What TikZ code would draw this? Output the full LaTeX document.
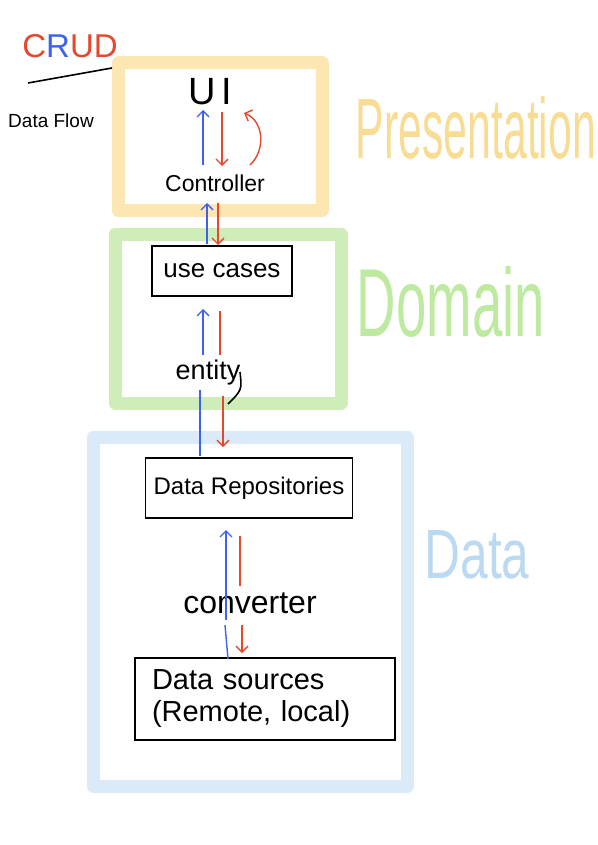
\documentclass[tikz,border=0pt]{standalone}
\usepackage{fontspec}
\usepackage{graphicx}
\setmainfont{Liberation Sans}
\usetikzlibrary{arrows.meta}
\definecolor{penred}{HTML}{E5482D}
\definecolor{penblue}{HTML}{3E62EE}
\definecolor{layyellow}{HTML}{FCE6B2}
\definecolor{laygreen}{HTML}{CFEDB8}
\definecolor{layblue}{HTML}{DAEAF8}
\definecolor{txtyellow}{HTML}{F8DC94}
\definecolor{txtgreen}{HTML}{BDE9A0}
\definecolor{txtblue}{HTML}{BCD9F2}
\tikzset{
  layer/.style={line width=13pt, line join=round, line cap=round},
  compbox/.style={draw=black, line width=1.6pt, inner sep=0pt},
  uparrow/.style={draw=penblue, line width=1.4pt, -{Straight Barb[length=6pt,width=12pt]}},
  downarrow/.style={draw=penred, line width=1.4pt, -{Straight Barb[length=6pt,width=12pt]}},
  upline/.style={draw=penblue, line width=1.4pt},
  downline/.style={draw=penred, line width=1.4pt},
  lbl/.style={inner sep=0pt, text=black},
}
\begin{document}
\begin{tikzpicture}[x=1pt,y=-1pt]
\useasboundingbox (0,0) rectangle (597,845);
% layer frames
\draw[layer, layyellow] (118,63) rectangle (322,210);
\draw[layer, laygreen] (115,234) rectangle (341,403);
\draw[layer, layblue] (93,437) rectangle (407,786);
% layer labels
\node[lbl, text=txtyellow] (presl) at (476,128) {\resizebox{240pt}{62pt}{Presentation}};
\node[lbl, text=txtgreen] (doml) at (451,302) {\resizebox{188pt}{70pt}{Domain}};
\node[lbl, text=txtblue] (datal) at (477,555) {\resizebox{105pt}{48pt}{Data}};
% legend
\node[lbl, font=\fontsize{33}{33}\selectfont] (crud) at (70,46) {\textcolor{penred}{C}\textcolor{penblue}{R}\textcolor{penred}{UD}};
\coordinate (ulA) at (28,83);
\coordinate (ulB) at (112,68);
\draw[line width=1.6pt] (ulA) -- (ulB);
\node[lbl, font=\fontsize{19}{19}\selectfont] (flow) at (51,121) {Data Flow};
% nodes
\node[lbl, font=\fontsize{38}{38}\selectfont] (ui) at (210,92) {U\hspace{6pt}I};
\node[lbl, font=\fontsize{23}{23}\selectfont] (ctrl) at (215,183) {Controller};
\node[compbox, minimum width=140pt, minimum height=50pt, font=\fontsize{26}{26}\selectfont] (uc) at (222,271) {use cases};
\node[lbl, font=\fontsize{27}{27}\selectfont] (ent) at (208,373) {entity};
\node[compbox, minimum width=207pt, minimum height=60pt, font=\fontsize{24}{24}\selectfont] (repo) at (249,488) {Data Repositories};
\node[lbl, font=\fontsize{32}{32}\selectfont] (conv) at (250,603) {converter};
\node[compbox, minimum width=260pt, minimum height=82pt, text width=226pt, align=left, font=\fontsize{29}{32}\selectfont] (src) at (265,699) {Data sources\\(Remote, local)};
% connector end points
\coordinate (c1a) at (203,165); \coordinate (c1b) at (203,110);
\coordinate (c2a) at (222,112); \coordinate (c2b) at (222,166);
\coordinate (loopA) at (250,165); \coordinate (loopB) at (244,113);
\coordinate (c3a) at (207,244); \coordinate (c3b) at (207,203);
\coordinate (c4a) at (218,203); \coordinate (c4b) at (218,245);
\coordinate (c5a) at (203,355); \coordinate (c5b) at (203,309);
\coordinate (c6a) at (220,311); \coordinate (c6b) at (220,355);
\coordinate (c7a) at (200,456); \coordinate (c7b) at (200,390);
\coordinate (c8a) at (223,396); \coordinate (c8b) at (223,447);
\coordinate (c9a) at (226,620); \coordinate (c9b) at (226,530);
\coordinate (c10a) at (240,536); \coordinate (c10b) at (240,586);
\coordinate (c11a) at (228,659); \coordinate (c11b) at (225,625);
\coordinate (c12a) at (242,625); \coordinate (c12b) at (242,653);
\coordinate (tailA) at (240,372); \coordinate (tailB) at (228,404);
% connectors
\draw[uparrow] (c1a) -- (c1b);
\draw[downarrow] (c2a) -- (c2b);
\draw[downarrow] (loopA) .. controls (266,150) and (264,121) .. (loopB);
\draw[uparrow] (c3a) -- (c3b);
\draw[downarrow] (c4a) -- (c4b);
\draw[uparrow] (c5a) -- (c5b);
\draw[downline] (c6a) -- (c6b);
\draw[line width=1.6pt] (tailA) .. controls (242,390) .. (tailB);
\draw[upline] (c7a) -- (c7b);
\draw[downarrow] (c8a) -- (c8b);
\draw[uparrow] (c9a) -- (c9b);
\draw[downline] (c10a) -- (c10b);
\draw[upline] (c11a) -- (c11b);
\draw[downarrow] (c12a) -- (c12b);
\end{tikzpicture}
\end{document}
